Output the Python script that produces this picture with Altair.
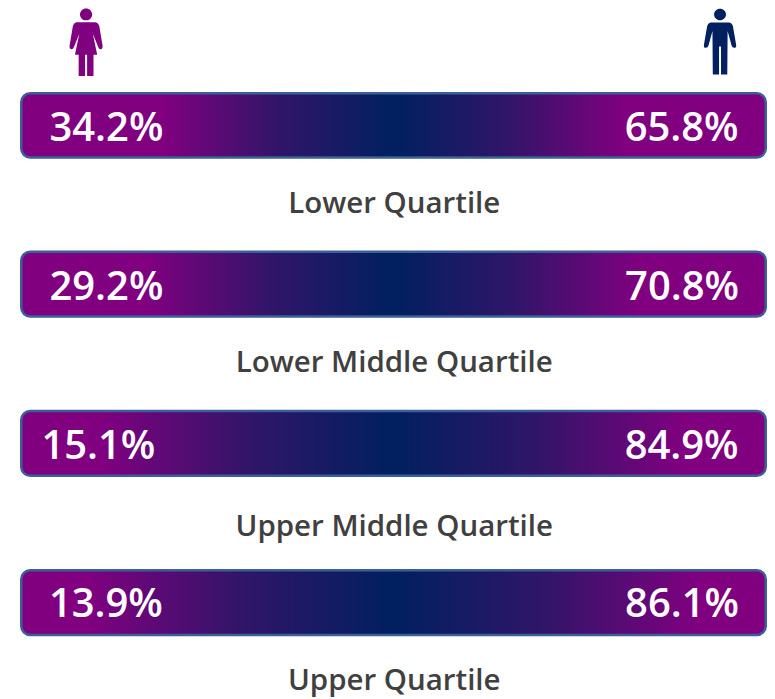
import altair as alt
import pandas as pd

PURPLE = "#800080"
NAVY = "#002060"
MID = "#311568"
BORDER = "#3B5F99"

quartiles = ["Lower Quartile", "Lower Middle Quartile", "Upper Middle Quartile", "Upper Quartile"]
female = [34.2, 29.2, 15.1, 13.9]
male = [65.8, 70.8, 84.9, 86.1]
gradient_edge = [0.19, 0.17, 0.11, 0.09]
bar_top = [93, 251.5, 411, 570.5]
bar_bottom = [157.3, 316.5, 476, 635.3]
pct_y = [128.7, 288, 447, 605.5]
label_y = [204, 363, 527, 681]
female_pos = [11.44, 11.44, 10.36, 11.37]
male_pos = [88.7, 88.76, 88.7, 88.76]

W, H = 760, 691
x_plain = alt.X("x:Q", scale=alt.Scale(domain=[0, 100], range=[13.25, 758.75]), axis=None)
y_scale = alt.Scale(domain=[8, 8 + H], range=[0, H])
y = alt.Y("y:Q", scale=y_scale, axis=None)

layers = []
for i, q in enumerate(quartiles):
    e = gradient_edge[i]
    grad = alt.Gradient(
        gradient="linear", x1=0, x2=1, y1=0, y2=0,
        stops=[
            alt.GradientStop(offset=0, color=PURPLE),
            alt.GradientStop(offset=e, color=PURPLE),
            alt.GradientStop(offset=(e + 0.5) / 2, color=MID),
            alt.GradientStop(offset=0.5, color=NAVY),
            alt.GradientStop(offset=1 - (e + 0.5) / 2, color=MID),
            alt.GradientStop(offset=1 - e, color=PURPLE),
            alt.GradientStop(offset=1, color=PURPLE),
        ],
    )
    d = pd.DataFrame({"x": [0], "x2": [100], "y": [bar_top[i]], "y2": [bar_bottom[i]]})
    layers.append(
        alt.Chart(d).mark_rect(color=grad, stroke=BORDER, strokeWidth=2.5, cornerRadius=9).encode(
            x=x_plain, x2="x2:Q", y=y, y2="y2:Q"
        )
    )

pct_rows = []
for i in range(4):
    pct_rows.append({"x": female_pos[i], "y": pct_y[i], "t": f"{female[i]}%"})
    pct_rows.append({"x": male_pos[i], "y": pct_y[i], "t": f"{male[i]}%"})
layers.append(
    alt.Chart(pd.DataFrame(pct_rows)).mark_text(
        font="Open Sans", fontSize=40, fontWeight=600, color="white", baseline="middle"
    ).encode(x=x_plain, y=y, text="t:N")
)

lab = pd.DataFrame({"x": [50.1] * 4, "y": label_y, "t": quartiles})
layers.append(
    alt.Chart(lab).mark_text(
        font="Open Sans", fontSize=29.5, fontWeight=600, color="#404040", baseline="middle"
    ).encode(x=x_plain, y=y, text="t:N")
)

HEAD = ("M0 -1C0.1 -1 0.18 -0.92 0.18 -0.825C0.18 -0.73 0.1 -0.65 0 -0.65"
        "C-0.1 -0.65 -0.18 -0.73 -0.18 -0.825C-0.18 -0.92 -0.1 -1 0 -1Z")
WOMAN = HEAD + ("M-0.29 -0.59L0.29 -0.59Q0.36 -0.57 0.39 -0.49L0.49 0.1Q0.5 0.2 0.43 0.21Q0.38 0.21 0.36 0.14L0.2 -0.25"
                "L0.33 0.37L0.22 0.37L0.22 1L0.03 1L0.03 0.37L-0.03 0.37L-0.03 1L-0.22 1L-0.22 0.37L-0.33 0.37"
                "L-0.2 -0.25L-0.36 0.14Q-0.38 0.21 -0.43 0.21Q-0.5 0.2 -0.49 0.1L-0.39 -0.49Q-0.36 -0.57 -0.29 -0.59Z")
MAN = HEAD + ("M-0.29 -0.58L0.29 -0.58Q0.37 -0.56 0.39 -0.47L0.49 0.1Q0.5 0.19 0.43 0.19Q0.37 0.19 0.35 0.12L0.23 -0.32"
              "L0.22 1L0.03 1L0.03 0.15L-0.03 0.15L-0.03 1L-0.22 1L-0.23 -0.32L-0.35 0.12"
              "Q-0.37 0.19 -0.43 0.19Q-0.5 0.19 -0.49 0.1L-0.39 -0.47Q-0.37 -0.56 -0.29 -0.58Z")

icon_x = [8.71, 93.86]
icon_y = [41.85, 41.2]
icon_size = [67.5 ** 2, 66 ** 2]
for px, py, s, shape, c in zip(icon_x, icon_y, icon_size, [WOMAN, MAN], [PURPLE, NAVY]):
    d = pd.DataFrame({"x": [px], "y": [py]})
    layers.append(
        alt.Chart(d).mark_point(shape=shape, filled=True, color=c, opacity=1, size=s, strokeWidth=0).encode(x=x_plain, y=y)
    )

chart = (
    alt.layer(*layers)
    .resolve_scale(x="shared", y="shared")
    .properties(width=W, height=H, padding=0, background="white", autosize=alt.AutoSizeParams(type="none"))
    .configure_view(strokeWidth=0)
)
chart.save("out.html", embed_options={"renderer": "svg", "actions": False})
